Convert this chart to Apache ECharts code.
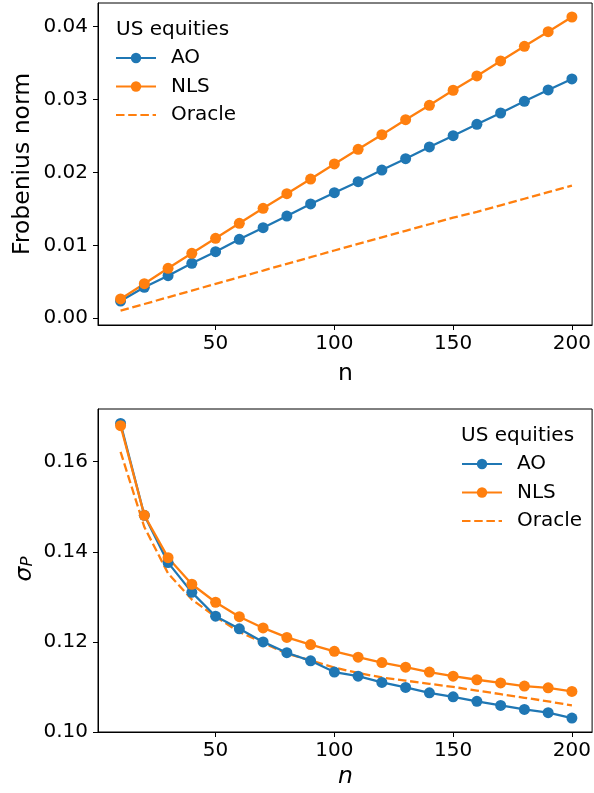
<!DOCTYPE html>
<html>
<head>
<meta charset="utf-8">
<script src="https://cdn.jsdelivr.net/npm/echarts@6/dist/echarts.min.js"></script>
<style>
html,body{margin:0;padding:0;background:#fff;}
#chart{width:594px;height:793px;}
</style>
</head>
<body>
<div id="chart"></div>
<script>
const nValues = [10,20,30,40,50,60,70,80,90,100,110,120,130,140,150,160,170,180,190,200];

const aoFrob = [0.00237,0.00425,0.00584,0.00754,0.00914,0.01084,0.01243,0.01403,0.01568,0.01723,0.01874,0.02034,0.02189,0.02350,0.02505,0.02661,0.02816,0.02977,0.03132,0.03283];
const nlsFrob = [0.00265,0.00475,0.00686,0.00892,0.01097,0.01303,0.01509,0.01709,0.01910,0.02117,0.02318,0.02519,0.02724,0.02922,0.03128,0.03324,0.03530,0.03731,0.03932,0.04133];
const oracleFrob = [0.00104,0.00196,0.00288,0.00380,0.00472,0.00564,0.00655,0.00747,0.00838,0.00930,0.01020,0.01110,0.01200,0.01290,0.01380,0.01460,0.01550,0.01640,0.01730,0.01820];

const aoSigma = [0.1685,0.1481,0.1376,0.1310,0.1257,0.1229,0.1200,0.1176,0.1158,0.1133,0.1124,0.1110,0.1099,0.1087,0.1078,0.1068,0.1059,0.1050,0.1043,0.1031];
const nlsSigma = [0.1680,0.1481,0.1387,0.1328,0.1288,0.1256,0.1231,0.1210,0.1194,0.1179,0.1166,0.1154,0.1144,0.1133,0.1124,0.1116,0.1109,0.1102,0.1098,0.1090];
const oracleSigma = [0.1622,0.1455,0.1352,0.1294,0.1256,0.1222,0.1198,0.1174,0.1159,0.1143,0.1131,0.1121,0.1114,0.1107,0.1100,0.1092,0.1084,0.1076,0.1068,0.1059];

const xTicks = [50,100,150,200];
const frobTicks = [0,0.01,0.02,0.03,0.04];
const sigmaTicks = [0.10,0.12,0.14,0.16];
const legendNames = ['AO','NLS','Oracle'];
const legendTitle = 'US equities';

const BLUE = '#1f77b4', ORANGE = '#ff7f0e';
const FONT = 'DejaVu Sans';
const pairs = (ys) => nValues.map((n,i) => [n, ys[i]]);

function xAxisCfg(gi){
  return {
    type:'value', gridIndex:gi, min:0.5, max:208.5,
    axisLine:{show:true, onZero:false, lineStyle:{color:'#000', width:1}},
    axisTick:{show:true, length:5, lineStyle:{color:'#000', width:1}, customValues:xTicks},
    axisLabel:{show:true, customValues:xTicks, margin:9, fontSize:20, fontFamily:FONT, color:'#000'},
    splitLine:{show:false}
  };
}
function yAxisCfg(gi, min, max, ticks){
  return {
    type:'value', gridIndex:gi, min:min, max:max,
    axisLine:{show:true, onZero:false, lineStyle:{color:'#000', width:1}},
    axisTick:{show:true, length:5, lineStyle:{color:'#000', width:1}, customValues:ticks},
    axisLabel:{show:true, customValues:ticks, margin:10, fontSize:20, fontFamily:FONT, color:'#000',
      formatter:(v)=>v.toFixed(2)},
    splitLine:{show:false}
  };
}
function markerSeries(name, ys, color, xi){
  return {
    name:name, type:'line', xAxisIndex:xi, yAxisIndex:xi, data:pairs(ys),
    symbol:'circle', symbolSize:11, showSymbol:true,
    lineStyle:{color:color, width:2.3}, itemStyle:{color:color},
    z:3
  };
}
function dashSeries(name, ys, color, xi){
  return {
    name:name, type:'line', xAxisIndex:xi, yAxisIndex:xi, data:pairs(ys),
    symbol:'none', lineStyle:{color:color, width:2.3, type:[8.5,3.7]}, itemStyle:{color:color},
    z:2
  };
}
function legendCfg(left, top){
  return {
    data:legendNames.map(nm => nm === 'Oracle'
      ? {name:nm, itemStyle:{opacity:0, color:'rgba(0,0,0,0)', borderWidth:0}}
      : {name:nm}),
    orient:'vertical', left:left, top:top, padding:0,
    itemWidth:40, itemHeight:13, itemGap:5.5, selectedMode:false,
    textStyle:{fontSize:20, fontFamily:FONT, color:'#000', lineHeight:23, padding:[0,0,0,10]}
  };
}
function txt(x, y, text, opts){
  return Object.assign({type:'text', x:x, y:y, silent:true,
    style:Object.assign({text:text, fontSize:20, fontFamily:FONT, fill:'#000', textAlign:'left', textVerticalAlign:'middle'}, opts||{})});
}

const chart = echarts.init(document.getElementById('chart'), null, {renderer:'canvas'});
chart.setOption({
  animation:false,
  backgroundColor:'#fff',
  grid:[
    {left:98, top:3, width:495, height:322, show:true, borderColor:'#000', borderWidth:1, backgroundColor:'transparent'},
    {left:98, top:409, width:495, height:323, show:true, borderColor:'#000', borderWidth:1, backgroundColor:'transparent'}
  ],
  xAxis:[xAxisCfg(0), xAxisCfg(1)],
  yAxis:[yAxisCfg(0, -0.00092, 0.04325, frobTicks), yAxisCfg(1, 0.10, 0.1717, sigmaTicks)],
  legend:[legendCfg(115, 46.5), legendCfg(461, 452.5)],
  series:[
    markerSeries('AO', aoFrob, BLUE, 0),
    markerSeries('NLS', nlsFrob, ORANGE, 0),
    dashSeries('Oracle', oracleFrob, ORANGE, 0),
    markerSeries('AO', aoSigma, BLUE, 1),
    markerSeries('NLS', nlsSigma, ORANGE, 1),
    dashSeries('Oracle', oracleSigma, ORANGE, 1)
  ],
  graphic:[
    txt(116, 29.5, legendTitle),
    txt(461, 436, legendTitle),
    txt(345.5, 374, 'n', {fontSize:23.5, textAlign:'center'}),
    txt(345.5, 777, 'n', {fontSize:23.5, fontStyle:'italic', textAlign:'center'}),
    {type:'text', x:22.5, y:164, rotation:Math.PI/2, silent:true,
      style:{text:'Frobenius norm', fontSize:23.5, fontFamily:FONT, fill:'#000', textAlign:'center', textVerticalAlign:'middle'}},
    {type:'text', x:25, y:569, rotation:Math.PI/2, silent:true,
      style:{text:'{s|σ}{p|P}', fontFamily:FONT, fill:'#000', textAlign:'center', textVerticalAlign:'middle',
        rich:{
          s:{fontSize:23.5, fontStyle:'italic', fontFamily:FONT, fill:'#000', verticalAlign:'bottom'},
          p:{fontSize:16.5, fontStyle:'italic', fontFamily:FONT, fill:'#000', verticalAlign:'bottom', padding:[0,0,0,0]}
        }}}
  ]
});
</script>
</body>
</html>
